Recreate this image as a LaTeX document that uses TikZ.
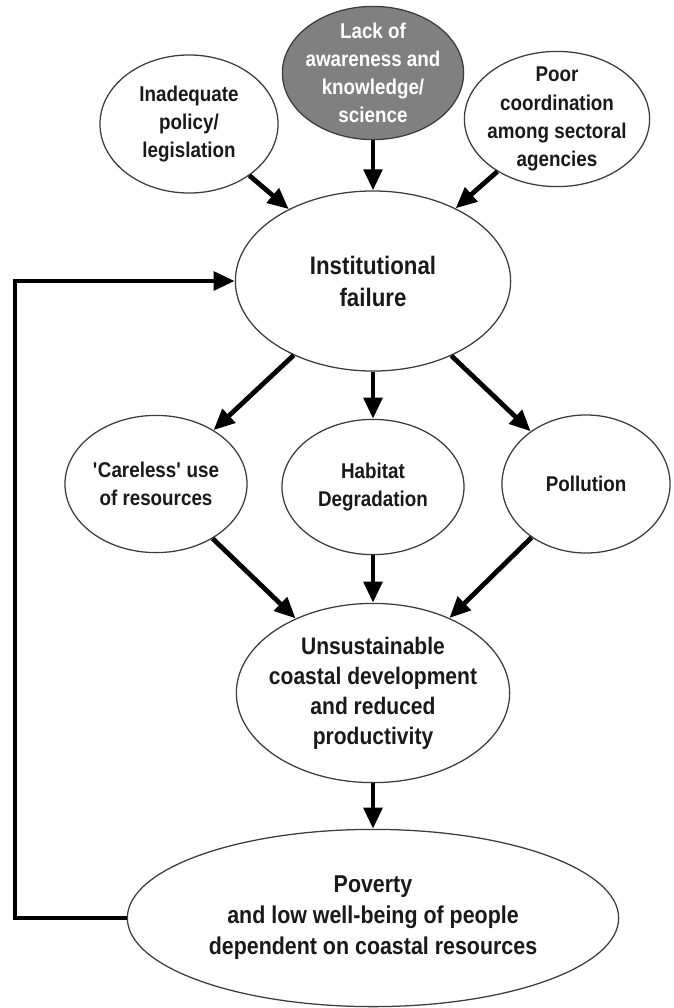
\documentclass[tikz,border=0pt]{standalone}
\usepackage{fontspec}
\setmainfont[FakeStretch = 0.88]{Liberation Sans}
\usetikzlibrary{shapes.geometric, arrows.meta}

\newcommand{\smallbold}{\fontsize{15.2}{20}\selectfont\bfseries}
\definecolor{rimgray}{RGB}{60,60,60}
\definecolor{fillgray}{RGB}{128,128,128}
\tikzstyle{bubble} = [ellipse, draw = rimgray, line width = 0.9pt, inner xsep = -8pt, inner ysep = -7pt, align = center, text = black!90, font = \smallbold]
\tikzstyle{causal} = [-{Triangle[length = 15pt, width = 13pt]}, line width = 3.4pt]

\begin{document}
\begin{tikzpicture}[x = 0.025cm, y = -0.025cm]
  \useasboundingbox (0, 0) rectangle (673, 1008);
  % three causes on top
  \node[bubble, minimum width = 4.45cm, minimum height = 3.45cm] (policy) at (189, 124) {Inadequate\\policy/\\legislation};
  \node[bubble, fill = fillgray, text = white, minimum width = 4.53cm, minimum height = 3.33cm] (aware) at (373, 73) {Lack of\\awareness and\\knowledge/\\science};
  \node[bubble, minimum width = 4.63cm, minimum height = 3.38cm] (coord) at (557, 119) {Poor\\coordination\\among sectoral\\agencies};
  \node[bubble, font = \fontsize{18}{22.8}\selectfont\bfseries, minimum width = 6.88cm, minimum height = 4.5cm] (inst) at (373, 281) {Institutional\\failure};
  % middle row
  \node[bubble, minimum width = 4.55cm, minimum height = 3.43cm] (careless) at (156, 484) {\textquotesingle Careless\textquotesingle\ use\\of resources};
  \node[bubble, minimum width = 4.55cm, minimum height = 3.38cm] (habitat) at (373, 487) {Habitat\\Degradation};
  \node[bubble, minimum width = 4.2cm, minimum height = 3.45cm] (pollution) at (586, 484) {Pollution};
  \node[bubble, font = \fontsize{17}{21.3}\selectfont\bfseries, minimum width = 6.83cm, minimum height = 4.48cm] (unsust) at (373, 693) {Unsustainable\\coastal development\\and reduced\\productivity};
  \node[bubble, font = \fontsize{17.3}{22}\selectfont\bfseries, minimum width = 12.28cm, minimum height = 4.43cm] (poverty) at (373, 918) {Poverty\\and low well-being of people\\dependent on coastal resources};
  \foreach \a/\b in {policy/inst, aware/inst, coord/inst, inst/careless, inst/habitat, inst/pollution, careless/unsust, habitat/unsust, pollution/unsust, unsust/poverty} {
    \draw[causal] (\a) -- (\b);
  }
  % feedback loop
  \coordinate (loop) at (15, 600);
  \draw[causal] (poverty.west) -- (poverty.west -| loop) |- (inst.west);
\end{tikzpicture}
\end{document}
